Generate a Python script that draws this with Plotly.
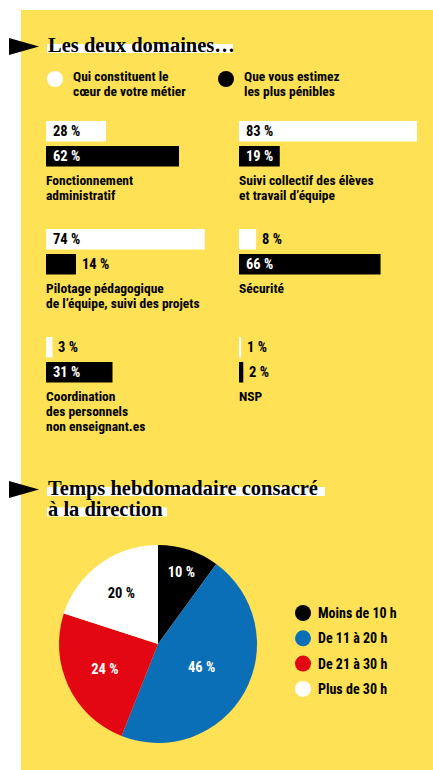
import plotly.graph_objects as go

# ---- data ----------------------------------------------------------------
domaines = [
    "Fonctionnement<br>administratif",
    "Suivi collectif des élèves<br>et travail d’équipe",
    "Pilotage pédagogique<br>de l’équipe, suivi des projets",
    "Sécurité",
    "Coordination<br>des personnels<br>non enseignant.es",
    "NSP",
]
coeur_metier = [28, 83, 74, 8, 3, 1]      # % "qui constituent le cœur de votre métier"
plus_penibles = [62, 19, 14, 66, 31, 2]   # % "que vous estimez les plus pénibles"

legende_barres = ["Qui constituent le<br>cœur de votre métier",
                  "Que vous estimez<br>les plus pénibles"]

tranches = ["Moins de 10 h", "De 11 à 20 h", "De 21 à 30 h", "Plus de 30 h"]
parts = [10, 46, 24, 20]

# ---- styling ---------------------------------------------------------------
W, H = 433, 770
JAUNE = "#FEE155"
BLEU = "#0B6FB7"
ROUGE = "#E30613"
SANS = "Liberation Sans Narrow, Roboto Condensed, Arial Narrow, sans-serif"
SERIF = "Liberation Serif, Times New Roman, serif"
PX_PER_PCT = 2.145
COL_X0 = [46, 239]
ROW_TOP = 121
ROW_STEP = 108
BAR_H = 20.5
BAR_GAP = 4.5
LINE_H = 15
TXT = 13.5

fig = go.Figure()

# bars: one trace per series and column
for col in range(2):
    idx = [i for i in range(len(domaines)) if i % 2 == col]
    rows = [i // 2 for i in idx]
    y_w = [ROW_TOP + r * ROW_STEP + BAR_H / 2 for r in rows]
    y_b = [ROW_TOP + r * ROW_STEP + BAR_H + BAR_GAP + BAR_H / 2 for r in rows]
    xa = "x" if col == 0 else "x2"
    fig.add_trace(go.Bar(x=[coeur_metier[i] for i in idx], y=y_w, orientation="h",
                         width=BAR_H, marker=dict(color="white", line=dict(width=0)),
                         xaxis=xa, yaxis="y", showlegend=False, hoverinfo="skip"))
    fig.add_trace(go.Bar(x=[plus_penibles[i] for i in idx], y=y_b, orientation="h",
                         width=BAR_H, marker=dict(color="black", line=dict(width=0)),
                         xaxis=xa, yaxis="y", showlegend=False, hoverinfo="skip"))

annotations = []
shapes = []

# yellow panel (paper-referenced so it sits beneath every subplot)
shapes.append(dict(type="rect", xref="paper", yref="paper", x0=21 / W, x1=1, y0=0, y1=1 - 10 / H,
                   fillcolor=JAUNE, line=dict(width=0), layer="below"))


def ligne_txt(xref, x, y, txt, size, color="black", xshift=0):
    """One line of bold sans text, vertically centred on y."""
    return dict(xref=xref, yref="y", x=x, y=y, xanchor="left", yanchor="middle",
                xshift=xshift, text=f"<b>{txt}</b>", showarrow=False,
                font=dict(family=SANS, size=size, color=color))


# value labels and category names
for i, nom in enumerate(domaines):
    r, col = i // 2, i % 2
    xa = "x" if col == 0 else "x2"
    for k, (v, fill) in enumerate([(coeur_metier[i], "white"), (plus_penibles[i], "black")]):
        yc = ROW_TOP + r * ROW_STEP + k * (BAR_H + BAR_GAP) + BAR_H / 2
        if v * PX_PER_PCT >= 38:
            tcol = "black" if fill == "white" else "white"
            annotations.append(ligne_txt(xa, 0, yc, f"{v} %", 14.5, tcol, xshift=5))
        else:
            annotations.append(ligne_txt(xa, v, yc, f"{v} %", 14.5, "black", xshift=4))
    y0 = ROW_TOP + r * ROW_STEP + 2 * BAR_H + BAR_GAP + 9
    for j, ligne in enumerate(nom.split("<br>")):
        annotations.append(ligne_txt(xa, 0, y0 + j * LINE_H + 4.5, ligne, TXT, xshift=-2))

# series legend
for k, (txt, fill) in enumerate(zip(legende_barres, ["white", "black"])):
    cx = [55, 226][k]
    shapes.append(dict(type="circle", xref="x3", yref="y", x0=cx - 8, x1=cx + 8, y0=71, y1=87,
                       fillcolor=fill, line=dict(width=0)))
    for j, ligne in enumerate(txt.split("<br>")):
        annotations.append(ligne_txt("x3", cx + 16, 76 + j * LINE_H, ligne, TXT))

# section titles with white highlight and arrow marker
titres = [(["Les deux domaines…"], 38, [233]),
          (["Temps hebdomadaire consacré", "à la direction"], 481, [325, 167])]
for lignes, ytop, ends in titres:
    shapes.append(dict(type="path", xref="x3", yref="y",
                       path=f"M 9 {ytop} L 39 {ytop + 8.5} L 9 {ytop + 17} Z",
                       fillcolor="black", line=dict(width=0)))
    for j, (ligne, xe) in enumerate(zip(lignes, ends)):
        base = ytop + 12 + j * 20.5
        shapes.append(dict(type="rect", xref="x3", yref="y", x0=47, x1=xe,
                           y0=base - 6, y1=base + 3, fillcolor="white", line=dict(width=0)))
        annotations.append(dict(xref="x3", yref="y", x=46, y=base - 5, xanchor="left",
                                yanchor="middle", text=f"<b>{ligne}</b>", showarrow=False,
                                font=dict(family=SERIF, size=20.5, color="black")))

# pie chart
CX, CY, R = 158, 644, 99
pie_colors = ["black", BLEU, ROUGE, "white"]
fig.add_trace(go.Pie(
    labels=tranches, values=parts, sort=False, direction="clockwise", rotation=0,
    marker=dict(colors=pie_colors, line=dict(width=0)),
    text=[f"<b>{p} %</b>" for p in parts], textinfo="text",
    textposition="inside", insidetextorientation="horizontal",
    textfont=dict(family=SANS, size=14.5, color=["white", "white", "white", "black"]),
    domain=dict(x=[(CX - R) / W, (CX + R) / W], y=[(H - CY - R) / H, (H - CY + R) / H]),
    showlegend=False, hoverinfo="skip",
))

# pie legend
for k, (lab, c) in enumerate(zip(tranches, pie_colors)):
    yc = 613 + k * 25.3
    shapes.append(dict(type="circle", xref="x3", yref="y", x0=295, x1=311, y0=yc - 8, y1=yc + 8,
                       fillcolor=c, line=dict(width=0)))
    annotations.append(ligne_txt("x3", 316, yc, lab, 14))

hidden = dict(visible=False, fixedrange=True)
fig.update_layout(
    width=W, height=H, margin=dict(l=0, r=0, t=0, b=0),
    paper_bgcolor="white", plot_bgcolor="rgba(0,0,0,0)",
    barmode="overlay",
    xaxis=dict(domain=[COL_X0[0] / W, (COL_X0[0] + PX_PER_PCT * 100) / W], range=[0, 100],
               anchor="y", **hidden),
    xaxis2=dict(domain=[COL_X0[1] / W, (COL_X0[1] + PX_PER_PCT * 90) / W], range=[0, 90],
                anchor="y", **hidden),
    xaxis3=dict(domain=[0, 1], range=[0, W], anchor="y", **hidden),
    yaxis=dict(domain=[0, 1], range=[H, 0], **hidden),
    shapes=shapes, annotations=annotations,
)

fig.write_html("out.html")
